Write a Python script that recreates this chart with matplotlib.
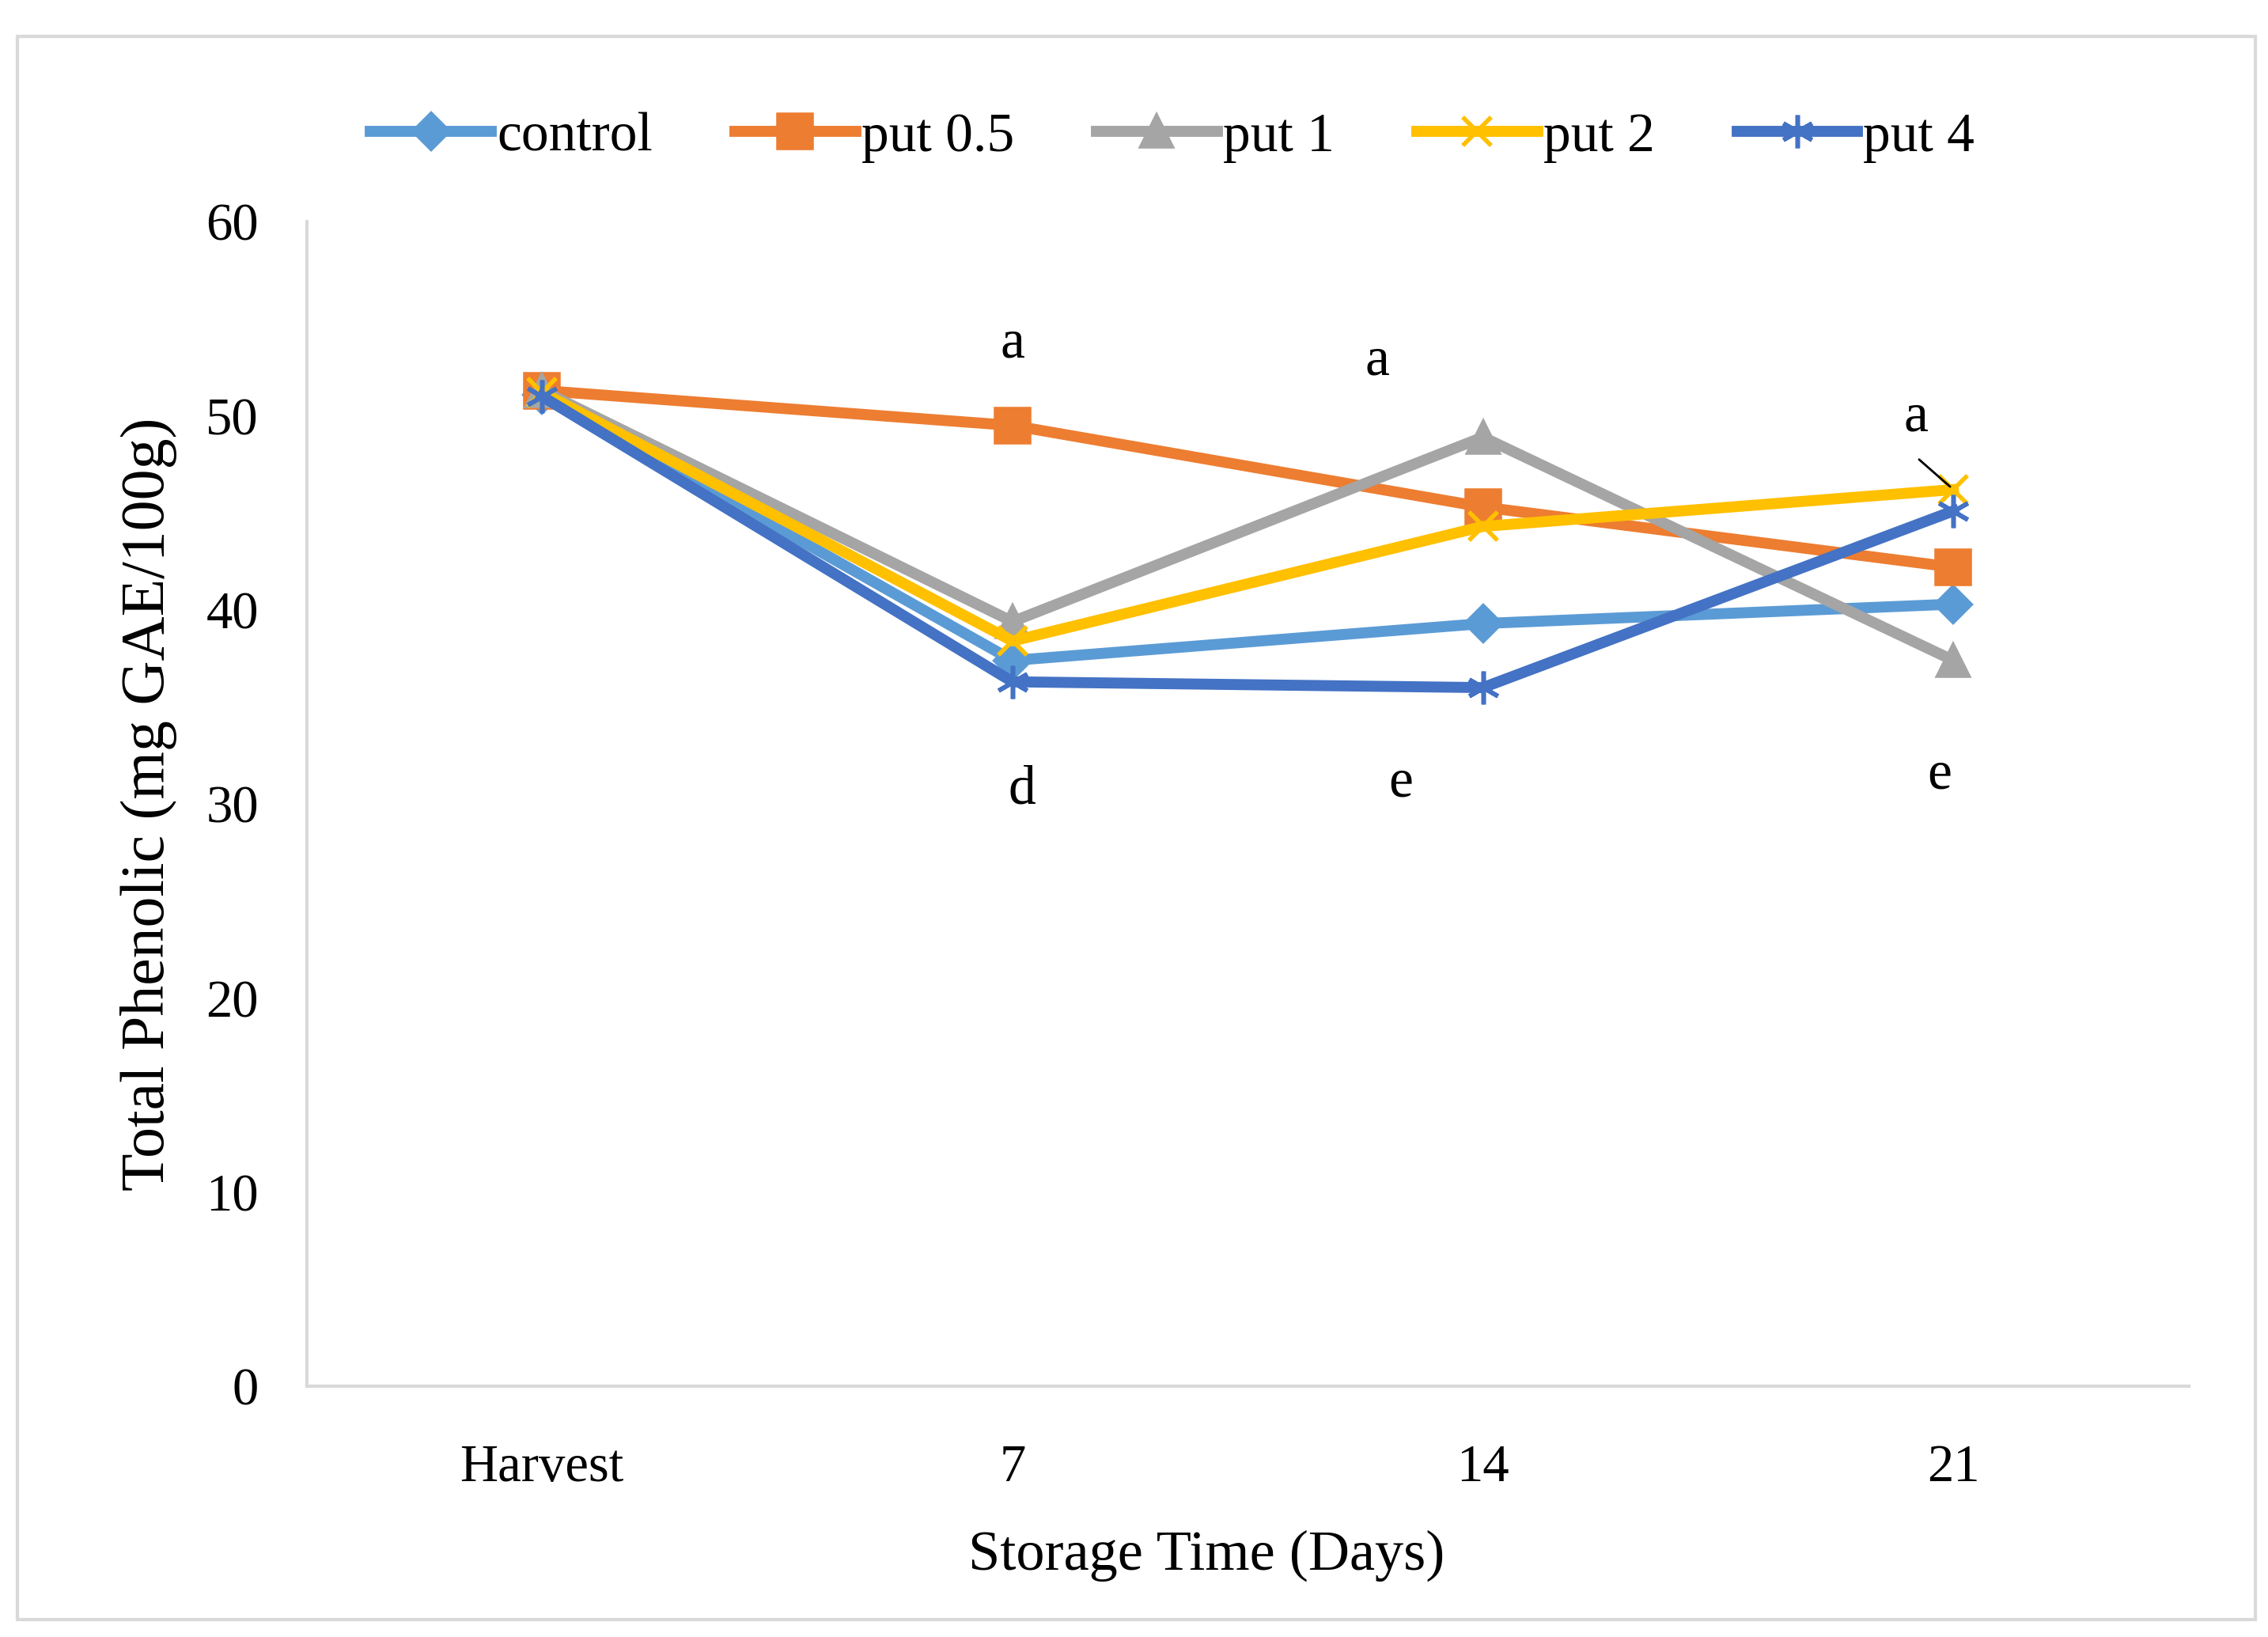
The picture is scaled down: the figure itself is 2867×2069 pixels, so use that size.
import matplotlib.pyplot as plt
from matplotlib.patches import Rectangle

# data
days = ['Harvest', '7', '14', '21']
control = [51.1, 37.4, 39.3, 40.3]
put_05 = [51.3, 49.5, 45.3, 42.2]
put_1 = [51.3, 39.4, 48.9, 37.4]
put_2 = [51.2, 38.4, 44.3, 46.2]
put_4 = [51.0, 36.3, 36.0, 45.1]

# significance letters: (label, x position, y value)
letters = ['a', 'a', 'a', 'd', 'e', 'e']
letter_x = [1.0, 1.775, 2.92, 1.02, 1.825, 2.97]
letter_y = [53.7, 52.8, 49.9, 30.7, 31.1, 31.5]

plt.rcParams['font.family'] = ['Liberation Serif', 'DejaVu Serif']

fig = plt.figure(figsize=(14.335, 10.345), dpi=200)
ax = fig.add_axes([0.1353, 0.153, 0.8297, 0.7116])

x = list(range(len(days)))
series = [
    ('control', control, '#5B9BD5', 'D', 11),
    ('put 0.5', put_05, '#ED7D31', 's', 15),
    ('put 1', put_1, '#A5A5A5', '^', 14),
    ('put 2', put_2, '#FFC000', 'x', 13),
    ('put 4', put_4, '#4472C4', (6, 2, 0), 15),
]
for name, vals, col, mk, ms in series:
    ax.plot(x, vals, color=col, lw=5, marker=mk, markersize=ms,
            markeredgewidth=2, markeredgecolor=col, markerfacecolor=col,
            label=name)

for t, lx, ly in zip(letters, letter_x, letter_y):
    ax.text(lx, ly, t, ha='center', va='center', fontsize=25)

# small black stroke near the day 21 marker
ax.annotate('', xy=(3.0, 46.2), xytext=(2.92, 47.9),
            arrowprops=dict(arrowstyle='-', color='black', lw=1))

ax.set_xlim(-0.5, 3.5)
ax.set_ylim(0, 60)
ax.set_xticks(x)
ax.set_xticklabels(days)
ax.set_yticks(range(0, 61, 10))
ax.tick_params(axis='both', length=0, labelsize=24)
ax.tick_params(axis='x', pad=26)
ax.tick_params(axis='y', pad=22)

for s in ['top', 'right']:
    ax.spines[s].set_visible(False)
for s in ['left', 'bottom']:
    ax.spines[s].set_color('#d9d9d9')
    ax.spines[s].set_linewidth(1.5)

ax.set_xlabel('Storage Time (Days)', fontsize=26)
ax.set_ylabel('Total Phenolic (mg GAE/100g)', fontsize=28)
ax.xaxis.set_label_coords(0.478, -0.123)
ax.yaxis.set_label_coords(-0.069, 0.5)

fig.legend(loc='center', bbox_to_anchor=(0.517, 0.916), ncol=5, frameon=False,
           fontsize=25, handlelength=2.2, handletextpad=0.1, columnspacing=1.5)

fig.patches.append(Rectangle((0.0077, 0.0106), 0.9866, 0.9673,
                             transform=fig.transFigure, fill=False,
                             edgecolor='#d9d9d9', lw=1.5))

fig.savefig('out.png', dpi=200)
